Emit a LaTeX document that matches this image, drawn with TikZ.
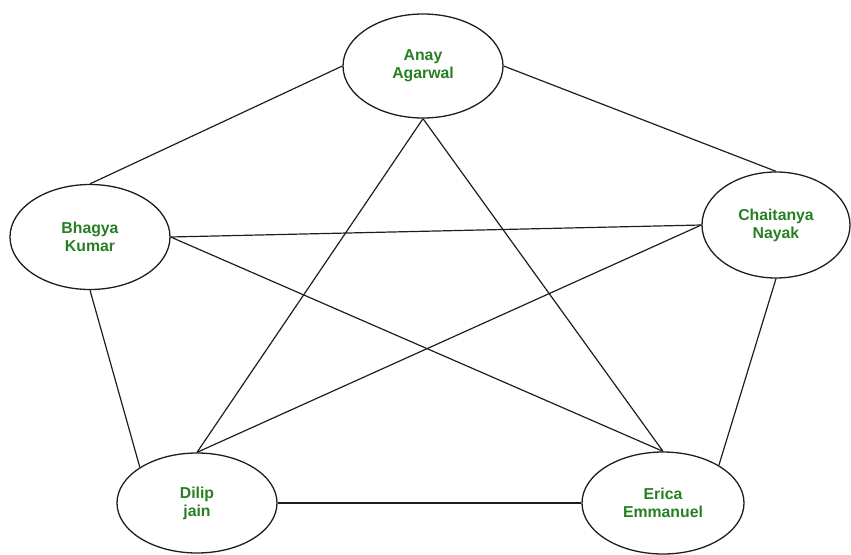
\documentclass[tikz,border=0pt]{standalone}
\usepackage{fontspec}
\setmainfont{Liberation Sans}
\usetikzlibrary{shapes.geometric}
\definecolor{namegreen}{RGB}{38,128,34}
\definecolor{stroke}{RGB}{30,30,30}
\begin{document}
\begin{tikzpicture}[x=1pt,y=-1pt,
  person/.style={ellipse,draw=stroke,line width=1.3pt,fill=white,inner sep=0pt,
    align=center,font=\fontsize{15.8}{18}\selectfont\bfseries,text=namegreen},
  link/.style={draw=stroke,line width=1.2pt}]
\useasboundingbox (0,0) rectangle (851,554);

% the five people
\node[person,minimum width=160,minimum height=104] (a) at (423,66) {Anay\\Agarwal};
\node[person,minimum width=160,minimum height=105] (b) at (90,237) {Bhagya\\Kumar};
\node[person,minimum width=148,minimum height=106] (c) at (776,225) {Chaitanya\\Nayak};
\node[person,minimum width=160,minimum height=100] (d) at (197,503) {Dilip\\jain};
\node[person,minimum width=162,minimum height=102] (e) at (663,503) {Erica\\Emmanuel};

% every pair is connected
\path[link] (a.west) -- (b.north);
\path[link] (a.east) -- (c.north);
\path[link] (a.south) -- (d.north);
\path[link] (a.south) -- (e.north);
\path[link] (b.east) -- (c.west);
\path[link] (b.east) -- (e.north);
\path[link] (b.south) -- (d.148);
\path[link] (c.west) -- (d.north);
\path[link] (c.south) -- (e.34);
\path[link] (d.east) -- (e.west);
\end{tikzpicture}
\end{document}
